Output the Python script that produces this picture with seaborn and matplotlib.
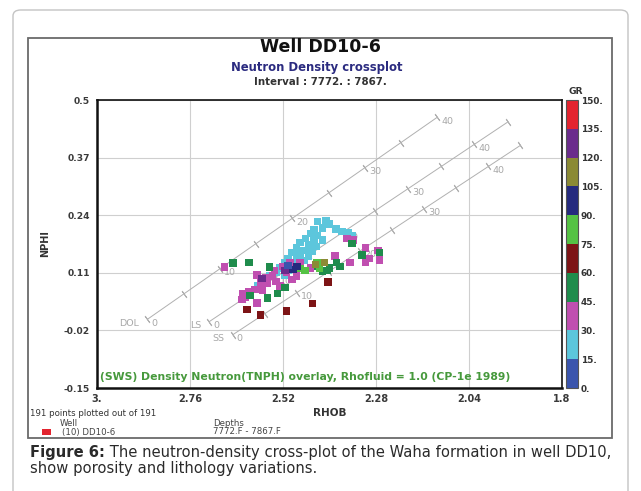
import numpy as np
import pandas as pd
import matplotlib
matplotlib.use("Agg")
import matplotlib.pyplot as plt
import seaborn as sns
from matplotlib.colors import ListedColormap, BoundaryNorm
from matplotlib.patches import Rectangle, FancyBboxPatch
import matplotlib.colorbar as mcolorbar

# ---------------- data ----------------
gr_bounds = [0, 15, 30, 45, 60, 75, 90, 105, 120, 135, 150]
gr_tick_labels = ["0.", "15.", "30.", "45.", "60.", "75.", "90.", "105.", "120.", "135.", "150."]
gr_colors = ["#3b55ad", "#5cc6dc", "#c04fb0", "#1f8c4c", "#7d1416",
             "#55c244", "#252a7e", "#8b8a35", "#6b2c8c", "#e3242f"]

x_ticks = [3.0, 2.76, 2.52, 2.28, 2.04, 1.8]
x_tick_labels = ["3.", "2.76", "2.52", "2.28", "2.04", "1.8"]
y_ticks = [-0.15, -0.02, 0.11, 0.24, 0.37, 0.5]
y_tick_labels = ["-0.15", "-0.02", "0.11", "0.24", "0.37", "0.5"]

rhob_cyan = [2.430, 2.409, 2.399, 2.419, 2.440, 2.383, 2.368, 2.352, 2.342, 2.450,
             2.430, 2.461, 2.440, 2.419, 2.476, 2.455, 2.435, 2.486, 2.466, 2.445,
             2.497, 2.476, 2.455, 2.507, 2.486, 2.466, 2.517, 2.497, 2.528, 2.507,
             2.538, 2.554, 2.569, 2.517, 2.585]
nphi_cyan = [0.225, 0.227, 0.220, 0.211, 0.207, 0.209, 0.204, 0.200, 0.193, 0.198,
             0.195, 0.188, 0.184, 0.184, 0.179, 0.173, 0.170, 0.166, 0.161, 0.159,
             0.155, 0.150, 0.148, 0.143, 0.139, 0.137, 0.132, 0.128, 0.121, 0.116,
             0.112, 0.103, 0.096, 0.105, 0.082]
gr_cyan = 22

rhob_magenta = [2.670, 2.355, 2.339, 2.275, 2.308, 2.270, 2.386, 2.347, 2.308, 2.502,
                2.587, 2.566, 2.548, 2.579, 2.559, 2.538, 2.528, 2.592, 2.572, 2.623,
                2.610, 2.626, 2.587, 2.497, 2.541, 2.520, 2.476, 2.450, 2.296, 2.618,
                2.510, 2.486]
nphi_magenta = [0.123, 0.188, 0.184, 0.161, 0.166, 0.139, 0.148, 0.134, 0.134, 0.134,
                0.105, 0.100, 0.103, 0.089, 0.087, 0.091, 0.080, 0.073, 0.071, 0.064,
                0.067, 0.049, 0.042, 0.094, 0.116, 0.125, 0.132, 0.121, 0.143, 0.055,
                0.112, 0.103]
gr_magenta = 37

rhob_green = [2.649, 2.608, 2.554, 2.316, 2.270, 2.342, 2.406, 2.381, 2.559, 2.535,
              2.605, 2.399, 2.419, 2.430, 2.373, 2.515]
nphi_green = [0.132, 0.134, 0.123, 0.150, 0.155, 0.177, 0.116, 0.134, 0.053, 0.064,
              0.058, 0.121, 0.114, 0.125, 0.125, 0.076]
gr_green = 52

rhob_darkred = [2.613, 2.579, 2.510, 2.443, 2.404]
nphi_darkred = [0.028, 0.015, 0.024, 0.040, 0.089]
gr_darkred = 67

rhob_lightgreen = [2.463, 2.432, 2.425, 2.474]
nphi_lightgreen = [0.116, 0.132, 0.121, 0.119]
gr_lightgreen = 82

rhob_navy = [2.494, 2.484]
nphi_navy = [0.118, 0.125]
gr_navy = 97

rhob_olive = [2.437, 2.412]
nphi_olive = [0.128, 0.134]
gr_olive = 112

rhob_purple = [2.515, 2.574]
nphi_purple = [0.116, 0.098]
gr_purple = 127

rhob_blue = [2.507]
nphi_blue = [0.127]
gr_blue = 7

# lithology overlay (CP-1e style, Rhofluid = 1.0)
lith_names = ["DOL", "LS", "SS"]
lith_rho_ma = [2.87, 2.71, 2.65]
lith_n0 = [0.005, 0.0, -0.03]
lith_nslope = [1.14, 1.0, 0.95]
lith_phi_max = [0.40, 0.45, 0.45]
rho_fluid = 1.0

# ---------------- build frame ----------------
groups = [
    (rhob_cyan, nphi_cyan, gr_cyan), (rhob_magenta, nphi_magenta, gr_magenta),
    (rhob_green, nphi_green, gr_green), (rhob_darkred, nphi_darkred, gr_darkred),
    (rhob_lightgreen, nphi_lightgreen, gr_lightgreen), (rhob_navy, nphi_navy, gr_navy),
    (rhob_olive, nphi_olive, gr_olive), (rhob_purple, nphi_purple, gr_purple),
    (rhob_blue, nphi_blue, gr_blue),
]
rows = []
for rh, np_, g in groups:
    for a, b in zip(rh, np_):
        rows.append((a, b, g))
df = pd.DataFrame(rows, columns=["RHOB", "NPHI", "GR"])
df["cls"] = np.digitize(df["GR"], gr_bounds[1:-1])
palette = {i: gr_colors[i] for i in range(len(gr_colors))}

# ---------------- figure ----------------
sns.set_style("white")
plt.rcParams["font.family"] = ["DejaVu Sans"]

W, H = 641, 491
fig = plt.figure(figsize=(W / 100, H / 100), dpi=100)

def fx(px):
    return px / W

def fy(py):
    return 1 - py / H

# outer rounded frame and inner box
fig.patches.append(FancyBboxPatch((fx(13), fy(500)), fx(628) - fx(13), fy(10) - fy(500),
                                  boxstyle="round,pad=0,rounding_size=0.012",
                                  transform=fig.transFigure, fill=False,
                                  edgecolor="#c4c4c4", linewidth=1.0))
fig.patches.append(Rectangle((fx(28), fy(438)), fx(612) - fx(28), fy(38) - fy(438),
                             transform=fig.transFigure, fill=False,
                             edgecolor="#6a6a6a", linewidth=1.3))

ax = fig.add_axes([fx(97), fy(388), fx(562) - fx(97), fy(100) - fy(388)])
ax.set_xlim(3.0, 1.8)
ax.set_ylim(-0.15, 0.5)
ax.set_xticks(x_ticks)
ax.set_xticklabels(x_tick_labels)
ax.set_yticks(y_ticks)
ax.set_yticklabels(y_tick_labels)
ax.tick_params(axis="x", length=0, pad=4, labelsize=7, labelcolor="#3a3a3a")
ax.tick_params(axis="y", length=0, pad=5, labelsize=6.6, labelcolor="#3a3a3a")
for lab in ax.get_xticklabels() + ax.get_yticklabels():
    lab.set_fontweight("bold")
ax.grid(True, color="#cfcfcf", linewidth=0.8)
ax.set_axisbelow(True)
for side, sp in ax.spines.items():
    sp.set_visible(True)
    sp.set_color("#111111")
    sp.set_linewidth(1.2)
ax.spines["left"].set_linewidth(1.8)
ax.spines["bottom"].set_linewidth(1.8)

# lithology lines with porosity ticks
line_col = "#b0b0b0"
for name, rma, n0, ns, pmax in zip(lith_names, lith_rho_ma, lith_n0, lith_nslope, lith_phi_max):
    phi = np.arange(0, pmax + 1e-9, 0.05)
    rho = rma * (1 - phi) + rho_fluid * phi
    nph = n0 + ns * phi
    ax.plot(rho, nph, color=line_col, linewidth=0.7, zorder=2)
    p0 = ax.transData.transform((rho[0], nph[0]))
    p1 = ax.transData.transform((rho[-1], nph[-1]))
    ang = np.degrees(np.arctan2(p1[1] - p0[1], p1[0] - p0[0]))
    ax.plot(rho, nph, linestyle="none", marker=(2, 2, ang), markersize=6,
            markeredgecolor=line_col, markeredgewidth=0.7, zorder=2)
    for ph, r, n in zip(phi, rho, nph):
        pct = int(round(ph * 100))
        if pct % 10 == 0:
            ax.annotate(str(pct), (r, n), xytext=(3, -3), textcoords="offset points",
                        fontsize=6.8, color="#a8a8a8", ha="left", va="center", zorder=2)
    ax.annotate(name, (rho[0], nph[0]), xytext=(-6, -3), textcoords="offset points",
                fontsize=6.8, color="#a8a8a8", ha="right", va="center", zorder=2)

# scatter
sns.scatterplot(data=df, x="RHOB", y="NPHI", hue="cls", palette=palette, marker="s",
                s=27, linewidth=0, legend=False, ax=ax, zorder=5)
ax.set_xlabel("RHOB", fontsize=7.5, fontweight="bold", color="#333333", labelpad=3)
ax.set_ylabel("NPHI", fontsize=7, fontweight="bold", color="#333333", labelpad=10)

ax.text(0.007, 0.022, "(SWS) Density Neutron(TNPH) overlay, Rhofluid = 1.0 (CP-1e 1989)",
        transform=ax.transAxes, fontsize=7.85, fontweight="bold", color="#46993c",
        ha="left", va="bottom", zorder=6)

# colorbar
cmap = ListedColormap(gr_colors)
norm = BoundaryNorm(gr_bounds, cmap.N)
cax = fig.add_axes([fx(566), fy(388), fx(578) - fx(566), fy(100) - fy(388)])
cb = mcolorbar.ColorbarBase(cax, cmap=cmap, norm=norm, boundaries=gr_bounds, ticks=gr_bounds)
cb.ax.set_yticklabels(gr_tick_labels)
cb.ax.tick_params(length=0, labelsize=6.4, labelcolor="#333333", pad=2)
for lab in cb.ax.get_yticklabels():
    lab.set_fontweight("bold")
cb.outline.set_edgecolor("#555555")
cb.outline.set_linewidth(0.8)
fig.text(fx(576), fy(91), "GR", fontsize=6.6, fontweight="bold", color="#333333",
         ha="center", va="center")

# titles
fig.text(fx(320), fy(47), "Well DD10-6", fontsize=12.5, fontweight="bold",
         color="#111111", ha="center", va="center")
fig.text(fx(317), fy(68), "Neutron Density crossplot", fontsize=8.4, fontweight="bold",
         color="#2b2b80", ha="center", va="center")
fig.text(fx(320), fy(82), "Interval : 7772. : 7867.", fontsize=7.4, fontweight="bold",
         color="#333333", ha="center", va="center")

# footer inside box
fig.text(fx(30), fy(414), "191 points plotted out of 191", fontsize=6.2, color="#333333",
         ha="left", va="center")
fig.text(fx(60), fy(423), "Well", fontsize=6.2, color="#444444", ha="left", va="center")
fig.text(fx(213), fy(423), "Depths", fontsize=6.2, color="#444444", ha="left", va="center")
fig.patches.append(Rectangle((fx(42), fy(435)), fx(51) - fx(42), fy(429) - fy(435),
                             transform=fig.transFigure, facecolor="#e3242f", edgecolor="none"))
fig.text(fx(62), fy(432), "(10) DD10-6", fontsize=6.2, color="#444444", ha="left", va="center")
fig.text(fx(213), fy(432), "7772.F - 7867.F", fontsize=6.2, color="#444444", ha="left", va="center")

# caption
renderer = fig.canvas.get_renderer()
t1 = fig.text(fx(30), fy(453), "Figure 6:", fontsize=10.6, fontweight="bold", color="#2a2a2a",
              ha="left", va="center")
bb = t1.get_window_extent(renderer=renderer)
x_end = bb.x1 / fig.dpi / fig.get_figwidth()
fig.text(x_end, fy(453), " The neutron-density cross-plot of the Waha formation in well DD10,",
         fontsize=10.6, color="#2a2a2a", ha="left", va="center")
fig.text(fx(30), fy(468), "show porosity and lithology variations.", fontsize=10.6,
         color="#2a2a2a", ha="left", va="center")

fig.savefig("out.png", dpi=100)
